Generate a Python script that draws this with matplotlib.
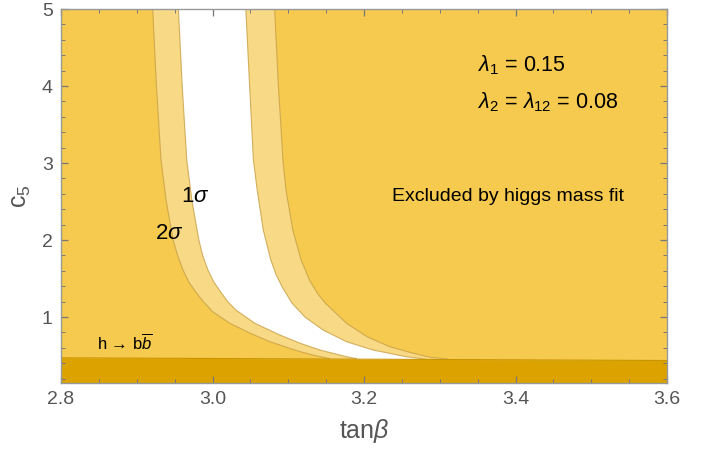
import numpy as np
import matplotlib
matplotlib.use('Agg')
import matplotlib.pyplot as plt
from matplotlib.ticker import MultipleLocator

plt.rcParams['font.family'] = ['Liberation Sans', 'DejaVu Sans']
plt.rcParams['mathtext.fontset'] = 'custom'
plt.rcParams['mathtext.rm'] = 'Liberation Sans'
plt.rcParams['mathtext.it'] = 'Liberation Sans:italic'

# boundaries: c5 values and tan(beta) at each
c5_left2 = [5.00, 4.00, 3.04, 2.50, 2.00, 1.80, 1.61, 1.45, 1.31, 1.20, 1.07,
            0.918, 0.788, 0.679, 0.593, 0.549, 0.50, 0.46]
tb_left2 = [2.921, 2.926, 2.932, 2.939, 2.948, 2.954, 2.961, 2.969, 2.979, 2.988, 3.000,
            3.023, 3.050, 3.076, 3.102, 3.116, 3.135, 3.155]

c5_left1 = [5.00, 4.00, 3.04, 2.50, 2.00, 1.80, 1.61, 1.45, 1.35, 1.20, 1.09,
            0.918, 0.766, 0.658, 0.571, 0.484, 0.46]
tb_left1 = [2.955, 2.960, 2.966, 2.973, 2.982, 2.987, 2.994, 3.002, 3.009, 3.020, 3.031,
            3.056, 3.089, 3.116, 3.142, 3.177, 3.19]

c5_right1 = [5.00, 4.00, 3.04, 2.65, 2.13, 1.74, 1.55, 1.39, 1.18, 1.00,
             0.831, 0.679, 0.571, 0.484, 0.455]
tb_right1 = [3.044, 3.049, 3.054, 3.059, 3.067, 3.077, 3.084, 3.092, 3.105, 3.122,
             3.146, 3.177, 3.212, 3.256, 3.28]

c5_right2 = [5.00, 4.00, 3.04, 2.65, 2.13, 1.74, 1.48, 1.30, 1.18,
             0.918, 0.744, 0.614, 0.529, 0.477, 0.455]
tb_right2 = [3.082, 3.087, 3.093, 3.097, 3.106, 3.117, 3.128, 3.139, 3.149,
             3.177, 3.204, 3.234, 3.265, 3.287, 3.310]

# h -> bb band top edge
band_tb = [2.8, 3.6]
band_c5 = [0.47, 0.435]

xmin, xmax = 2.8, 3.6
ymin, ymax = 0.143, 5.0

col_excl = '#F6CA4E'
col_2s = '#F8D985'
col_band = '#DCA300'
col_edge = '#C7A046'

fig = plt.figure(figsize=(7.1, 4.55), dpi=100)
ax = fig.add_axes([61/710, 1-383/455, 606/710, 374/455])
ax.set_facecolor(col_excl)

# 2 sigma region
px = tb_left2 + [tb_left2[-1], tb_right2[-1]] + tb_right2[::-1]
py = c5_left2 + [ymin, ymin] + c5_right2[::-1]
ax.fill(px, py, color=col_2s, lw=0)

# 1 sigma region
px = tb_left1 + [tb_left1[-1], tb_right1[-1]] + tb_right1[::-1]
py = c5_left1 + [ymin, ymin] + c5_right1[::-1]
ax.fill(px, py, color='white', lw=0)

for t, c in [(tb_left2, c5_left2), (tb_left1, c5_left1),
             (tb_right1, c5_right1), (tb_right2, c5_right2)]:
    ax.plot(t, c, color=col_edge, lw=0.8, alpha=0.8)

# h -> bb excluded band
ax.fill_between(band_tb, [ymin, ymin], band_c5, color=col_band, lw=0)
ax.plot(band_tb, band_c5, color='#C99400', lw=0.8)

ax.set_xlim(xmin, xmax)
ax.set_ylim(ymin, ymax)

ax.xaxis.set_major_locator(MultipleLocator(0.2))
ax.xaxis.set_minor_locator(MultipleLocator(0.05))
ax.yaxis.set_major_locator(MultipleLocator(1))
ax.yaxis.set_minor_locator(MultipleLocator(0.2))
ax.set_xticks([2.8, 3.0, 3.2, 3.4, 3.6])
ax.set_xticklabels(['2.8', '3.0', '3.2', '3.4', '3.6'])
ax.set_yticks([1, 2, 3, 4, 5])
ax.tick_params(which='both', direction='in', top=True, right=True,
               color='#777777', labelcolor='#555555', labelsize=14, pad=6)
ax.tick_params(which='major', length=5, width=0.9)
ax.tick_params(which='minor', length=3, width=0.7)
for s in ax.spines.values():
    s.set_color('#999999')
    s.set_linewidth(1.0)

ax.set_xlabel(r'tan$\beta$', fontsize=18, color='#555555', labelpad=6)
ax.set_ylabel(r'c$_5$', fontsize=18, color='#555555', labelpad=6)

ax.text(3.350, 4.27, r'$\lambda_1$ = 0.15', fontsize=15.5, va='center')
ax.text(3.350, 3.79, r'$\lambda_2$ = $\lambda_{12}$ = 0.08', fontsize=15.5, va='center')
ax.text(3.237, 2.56, 'Excluded by higgs mass fit', fontsize=14, va='center')
ax.text(2.958, 2.56, r'1$\sigma$', fontsize=16, va='center')
ax.text(2.924, 2.09, r'2$\sigma$', fontsize=16, va='center')
ax.text(2.848, 0.66, r'h → b$\overline{b}$', fontsize=12, va='center')

fig.savefig('out.png', dpi=100)
